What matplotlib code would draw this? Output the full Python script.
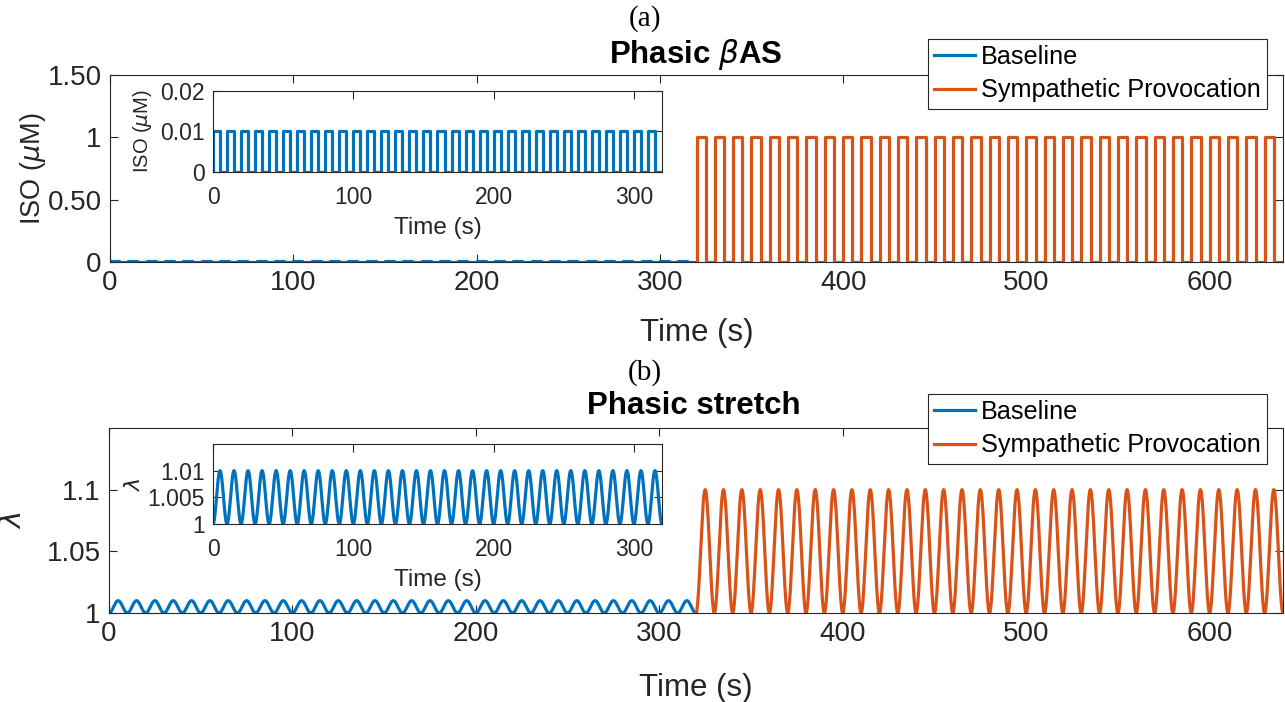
import numpy as np
import matplotlib
matplotlib.use("Agg")
import matplotlib.pyplot as plt

# ---- data (protocol) ----
period_s = 10.0                 # one beat cycle of the stimulus
baseline_window = [0, 320]      # s
provocation_window = [320, 640] # s
iso_baseline_uM = 0.01
iso_provocation_uM = 1.0
stretch_amp_baseline = 0.01     # peak lambda - 1
stretch_amp_provocation = 0.10
series_labels = ["Baseline", "Sympathetic Provocation"]
main_xticks = [0, 100, 200, 300, 400, 500, 600]
inset_xticks = [0, 100, 200, 300]
iso_yticks = [0, 0.5, 1, 1.5]
iso_yticklabels = ["0", "0.50", "1", "1.50"]
iso_inset_yticks = [0, 0.01, 0.02]
iso_inset_yticklabels = ["0", "0.01", "0.02"]
lam_yticks = [1, 1.05, 1.1]
lam_yticklabels = ["1", "1.05", "1.1"]
lam_inset_yticks = [1, 1.005, 1.01]
lam_inset_yticklabels = ["1", "1.005", "1.01"]

BLUE = "#0072BD"
ORANGE = "#D95319"
AX_COL = "#262626"
FONT = ["Liberation Sans", "DejaVu Sans"]

plt.rcParams["font.family"] = FONT
plt.rcParams["mathtext.fontset"] = "dejavusans"


def square_wave(window, level):
    t0, t1 = window
    edges = np.arange(t0, t1 + period_s / 2, period_s / 2)
    vals = np.where(np.arange(len(edges)) % 2 == 0, level, 0.0)
    vals[-1] = 0.0
    t = np.concatenate([[t0], edges])
    v = np.concatenate([[0.0], vals])
    return t, v


def stretch_wave(window, amp):
    t = np.linspace(window[0], window[1], 4001)
    return t, 1 + amp / 2 * (1 - np.cos(2 * np.pi * (t - window[0]) / period_s))


W, H = 1285, 702
fig = plt.figure(figsize=(W / 100, H / 100), dpi=100)


def rect(l, r, t, b):
    return [l / W, 1 - b / H, (r - l) / W, (b - t) / H]


def style(ax, fs, pad=6):
    for s in ax.spines.values():
        s.set_color(AX_COL)
        s.set_linewidth(0.8)
    ax.tick_params(direction="in", top=True, right=True, colors=AX_COL,
                   labelcolor="#262626", labelsize=fs, length=6, width=0.8,
                   pad=pad)


lw = 2.3
leg_kw = dict(loc="upper right", bbox_transform=fig.transFigure,
              fontsize=18.2, frameon=True, fancybox=False,
              edgecolor="#262626", framealpha=1, handlelength=1.6,
              handletextpad=0.25, borderpad=0.25, labelspacing=0.36,
              borderaxespad=0)

# ---------- (a) ----------
ax1 = fig.add_axes(rect(110, 1283, 75, 262))
tb, vb = square_wave(baseline_window, iso_baseline_uM)
tp, vp = square_wave(provocation_window, iso_provocation_uM)
ax1.plot(tb, vb, drawstyle="steps-post", color=BLUE, lw=lw, label=series_labels[0])
ax1.plot(tp, vp, drawstyle="steps-post", color=ORANGE, lw=lw, label=series_labels[1])
ax1.set_xlim(0, 640)
ax1.set_ylim(0, 1.5)
ax1.set_xticks(main_xticks)
ax1.set_yticks(iso_yticks)
ax1.set_yticklabels(iso_yticklabels)
style(ax1, 20)
ax1.set_xlabel("Time (s)", fontsize=22.5, color="#262626", labelpad=15.5)
ax1.set_ylabel(r"ISO ($\mu$M)", fontsize=19.5, color="#262626", labelpad=0)
leg1 = ax1.legend(bbox_to_anchor=(1267 / W, 1 - 39 / H), **leg_kw)
leg1.get_frame().set_linewidth(0.8)
leg1.set_zorder(10)

ins1 = fig.add_axes(rect(213, 662, 91, 172))
ins1.plot(tb, vb, drawstyle="steps-post", color=BLUE, lw=lw)
ins1.set_xlim(0, 320)
ins1.set_ylim(0, 0.02)
ins1.set_xticks(inset_xticks)
ins1.set_yticks(iso_inset_yticks)
ins1.set_yticklabels(iso_inset_yticklabels)
style(ins1, 16.5, pad=9)
ins1.xaxis.set_tick_params(pad=10)
ins1.yaxis.set_tick_params(pad=6)
ins1.set_xlabel("Time (s)", fontsize=17.5, color="#262626", labelpad=6)
ins1.set_ylabel(r"ISO ($\mu$M)", fontsize=14.5, color="#262626", labelpad=4)

fig.text(696 / W, 1 - 55 / H, r"Phasic $\beta$AS", ha="center", va="center",
         fontsize=22.5, fontweight="bold", color="black")
fig.text(645 / W, 1 - 19 / H, "(a)", ha="center", va="center", fontsize=21,
         family=["Liberation Serif", "DejaVu Serif"], color="black")

# ---------- (b) ----------
ax2 = fig.add_axes(rect(109, 1283, 428, 613))
tsb, lsb = stretch_wave(baseline_window, stretch_amp_baseline)
tsp, lsp = stretch_wave(provocation_window, stretch_amp_provocation)
ax2.plot(tsb, lsb, color=BLUE, lw=lw, label=series_labels[0])
ax2.plot(tsp, lsp, color=ORANGE, lw=lw, label=series_labels[1])
ax2.set_xlim(0, 640)
ax2.set_ylim(1, 1.15)
ax2.set_xticks(main_xticks)
ax2.set_yticks(lam_yticks)
ax2.set_yticklabels(lam_yticklabels)
style(ax2, 20)
ax2.set_xlabel("Time (s)", fontsize=22.5, color="#262626", labelpad=18.5)
ax2.set_ylabel(r"$\lambda$", fontsize=21, color="#262626", labelpad=14)
leg2 = ax2.legend(bbox_to_anchor=(1267 / W, 1 - 394 / H), **leg_kw)
leg2.get_frame().set_linewidth(0.8)
leg2.set_zorder(10)

ins2 = fig.add_axes(rect(213, 662, 444, 524))
ins2.plot(tsb, lsb, color=BLUE, lw=lw)
ins2.set_xlim(0, 320)
ins2.set_ylim(1, 1.015)
ins2.set_xticks(inset_xticks)
ins2.set_yticks(lam_inset_yticks)
ins2.set_yticklabels(lam_inset_yticklabels)
style(ins2, 16.5, pad=9)
ins2.xaxis.set_tick_params(pad=10)
ins2.yaxis.set_tick_params(pad=6)
ins2.set_xlabel("Time (s)", fontsize=17.5, color="#262626", labelpad=6)
ins2.set_ylabel(r"$\lambda$", fontsize=16, color="#262626", labelpad=2)

fig.text(694 / W, 1 - 406 / H, "Phasic stretch", ha="center", va="center",
         fontsize=22.5, fontweight="bold", color="black")
fig.text(645 / W, 1 - 373 / H, "(b)", ha="center", va="center", fontsize=21,
         family=["Liberation Serif", "DejaVu Serif"], color="black")

fig.savefig("out.png", dpi=100)
